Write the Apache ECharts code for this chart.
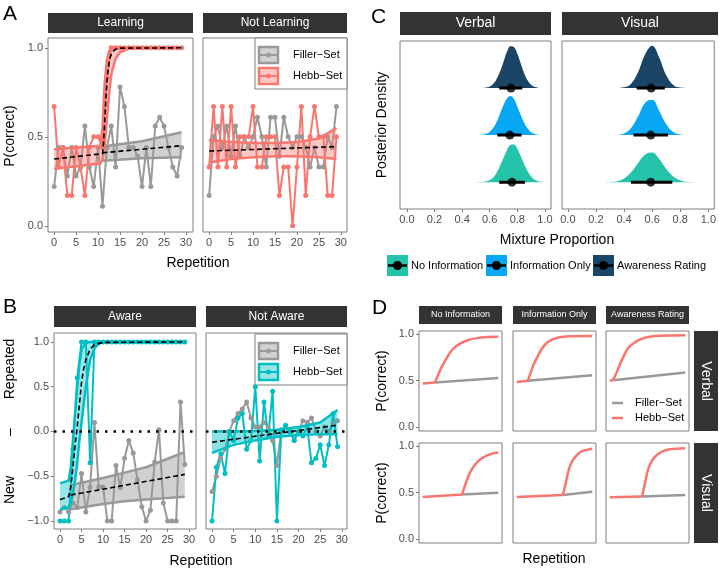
<!DOCTYPE html>
<html>
<head>
<meta charset="utf-8">
<script src="https://cdn.jsdelivr.net/npm/echarts@6/dist/echarts.min.js"></script>
<style>
  html, body { margin: 0; padding: 0; background: #fff; }
  #chart { width: 719px; height: 572px; }
</style>
</head>
<body>
<div id="chart"></div>
<script>
// ---------- data ----------
const repetition = [0,1,2,3,4,5,6,7,8,9,10,11,12,13,14,15,16,17,18,19,20,21,22,23,24,25,26,27,28,29];
const repTicks = [0,5,10,15,20,25,30];
const pTicks = [0,0.5,1];
const respTicks = [-1,-0.5,0,0.5,1];
const mixTicks = [0,0.2,0.4,0.6,0.8,1];

// A: Learning / Not Learning
const aLearnFiller = [0.22,0.44,0.44,0.28,0.44,0.28,0.33,0.56,0.33,0.22,0.44,0.11,0.44,0.56,0.33,0.78,0.67,0.44,0.44,0.39,0.22,0.44,0.22,0.56,0.61,0.56,0.44,0.33,0.28,0.44];
const aLearnHebb = [0.67,0.33,0.44,0.17,0.17,0.44,0.33,0.17,0.44,0.5,0.5,0.44,0.83,1,1,1,1,1,1,1,1,1,1,1,1,1,1,1,1,1];
const aNotFiller = [0.17,0.5,0.56,0.44,0.56,0.39,0.56,0.39,0.5,0.44,0.5,0.61,0.5,0.33,0.61,0.61,0.39,0.61,0.5,0.44,0.5,0.5,0.44,0.33,0.44,0.33,0.33,0.5,0.44,0.67];
const aNotHebb = [0.33,0.67,0.33,0.67,0.33,0.67,0.33,0.5,0.5,0.5,0.67,0.33,0.33,0.5,0.5,0.5,0.17,0.33,0.33,0,0.33,0.67,0.17,0.5,0.67,0.5,0.5,0.17,0.17,0.5];

const aLearnHebbFitX = [0,11,11.25,11.5,11.75,12,12.25,12.5,12.75,13,13.5,14,15,29];
const aLearnHebbFitY = [0.375,0.405,0.47,0.58,0.7,0.8,0.87,0.915,0.945,0.963,0.982,0.992,0.998,1];
const aLearnFillerFitX = [11,29];
const aLearnFillerFitY = [0.41,0.45];
const aLearnHebbBandX = [0,5,10.5,11,11.5,12,12.5,13,14,15,17,20,29];
const aLearnHebbBandHi = [0.43,0.44,0.45,0.55,0.8,0.93,0.98,1,1,1,1,1,1];
const aLearnHebbBandLo = [0.32,0.335,0.35,0.37,0.45,0.6,0.74,0.85,0.94,0.975,0.995,1,1];
const aLearnFillerBandX = [11,20,29];
const aLearnFillerBandHi = [0.445,0.475,0.525];
const aLearnFillerBandLo = [0.365,0.38,0.385];
const aNotFitX = [0,29];
const aNotFitY = [0.42,0.445];
const aNotBandX = [0,5,10,15,20,25,29];
const aNotBandHi = [0.483,0.47,0.465,0.465,0.47,0.49,0.55];
const aNotBandLo = [0.355,0.375,0.385,0.39,0.39,0.385,0.375];

// B: Aware / Not Aware
const bAwareFiller = [-0.9,-0.85,-0.9,-0.8,-0.85,-0.47,-0.9,-0.62,0.1,-0.62,-0.62,-1,-1,-0.38,-0.63,-0.3,-0.1,-0.24,-0.54,-0.84,-1,-0.88,-0.34,0.02,-0.8,-1,-1,-1,0.33,-0.37];
const bAwareHebb = [-1,-1,-1,-0.2,0.6,1,1,-0.35,1,1,1,1,1,1,1,1,1,1,1,1,1,1,1,1,1,1,1,1,1,1];
const bNotFiller = [-0.67,-0.5,-0.3,-0.2,0,0.12,0.2,0.25,0.33,0.15,0.05,0.05,0.1,0.05,-0.1,-0.38,0.02,0.05,0,-0.1,0,0.12,0.1,0.15,0,-0.05,0.05,0,0.1,0.12];
const bNotHebb = [-1,-0.4,-0.25,-0.47,0,-0.1,0.15,0.2,-0.2,-0.1,0.5,-0.33,0.33,-0.05,0.45,-1,0,0.07,0,-0.1,0,-0.05,0.05,-0.35,-0.3,-0.15,-0.38,-0.15,0.2,-0.17];

const bAwareHebbFitX = [0,2,2.5,3,3.5,4,4.5,5,5.5,6,7,8,10,29];
const bAwareHebbFitY = [-0.76,-0.73,-0.62,-0.4,-0.15,0.05,0.3,0.55,0.7,0.8,0.92,0.97,0.995,1];
const bAwareFillerFitX = [2.5,29];
const bAwareFillerFitY = [-0.71,-0.48];
const bAwareHebbBandX = [0,2,2.5,3,3.5,4,4.5,5,6,7,8,9,10,29];
const bAwareHebbBandHi = [-0.58,-0.55,-0.4,-0.1,0.2,0.5,0.75,0.92,0.99,1,1,1,1,1];
const bAwareHebbBandLo = [-0.87,-0.85,-0.8,-0.7,-0.55,-0.35,-0.1,0.1,0.5,0.8,0.93,0.98,1,1];
const bAwareFillerBandX = [2.5,10,15,20,29];
const bAwareFillerBandHi = [-0.6,-0.52,-0.46,-0.4,-0.23];
const bAwareFillerBandLo = [-0.87,-0.81,-0.78,-0.76,-0.73];
const bNotFitX = [0,29];
const bNotFitY = [-0.12,0.07];
const bNotBandX = [0,5,10,15,20,25,29];
const bNotBandHi = [0,0,0.005,0.02,0.05,0.1,0.24];
const bNotBandLo = [-0.24,-0.15,-0.1,-0.06,-0.04,-0.03,-0.03];

// C: posterior densities of the mixture proportion (rows: No Information, Information Only, Awareness Rating)
const cConditions = ['No Information','Information Only','Awareness Rating'];
const cVerbalX = [0.5,0.525,0.55,0.575,0.6,0.625,0.65,0.675,0.7,0.725,0.75,0.775,0.8,0.825,0.85,0.875,0.9,0.925,0.95,0.975,1];
const cVerbalNone = [0,0.002,0.006,0.018,0.046,0.1,0.2,0.35,0.52,0.68,0.79,0.8,0.71,0.55,0.38,0.23,0.12,0.055,0.022,0.008,0.002];
const cVerbalInfo = [0.001,0.003,0.011,0.03,0.072,0.15,0.28,0.46,0.64,0.78,0.83,0.77,0.61,0.43,0.26,0.14,0.063,0.025,0.009,0.003,0.001];
const cVerbalAware = [0,0.001,0.003,0.011,0.032,0.084,0.19,0.35,0.56,0.77,0.89,0.87,0.73,0.52,0.31,0.16,0.07,0.026,0.008,0.002,0];
const cVisualX = [0.25,0.3,0.35,0.4,0.45,0.5,0.55,0.6,0.65,0.7,0.75,0.8,0.85,0.9,0.95];
const cVisualNone = [0.001,0.004,0.021,0.078,0.21,0.41,0.59,0.63,0.49,0.28,0.12,0.037,0.008,0.001,0];
const cVisualInfo = [0,0,0.005,0.034,0.15,0.4,0.69,0.75,0.52,0.23,0.064,0.011,0.001,0,0];
const cVisualAware = [0,0,0.001,0.015,0.093,0.34,0.72,0.9,0.65,0.27,0.067,0.01,0.001,0,0];
const cVerbalEst = [0.761,0.746,0.754];
const cVerbalLo = [0.669,0.655,0.669];
const cVerbalHi = [0.855,0.83,0.836];
const cVisualEst = [0.59,0.59,0.593];
const cVisualLo = [0.449,0.467,0.49];
const cVisualHi = [0.743,0.713,0.69];

// D: model predictions, [repetition, P(correct)]; 2nd point = change point
const dVerbalNoneHebb = [[1,0.47],[5.7,0.48],[7,0.57],[8.5,0.66],[10.3,0.75],[12.5,0.84],[15.3,0.9],[18.5,0.94],[21.8,0.96],[26,0.972],[30,0.975]];
const dVerbalNoneFiller = [[5.7,0.48],[30,0.53]];
const dVerbalInfoHebb = [[1,0.485],[5.3,0.5],[6.5,0.6],[7.6,0.68],[8.8,0.75],[10.5,0.84],[12.6,0.91],[15,0.95],[17.6,0.97],[22,0.98],[30,0.982]];
const dVerbalInfoFiller = [[5.3,0.5],[30,0.56]];
const dVerbalAwareHebb = [[1,0.5],[2.2,0.505],[3.5,0.58],[4.8,0.67],[6.1,0.75],[8,0.85],[9.9,0.9],[12.5,0.945],[15.3,0.97],[20,0.985],[30,0.99]];
const dVerbalAwareFiller = [[2.2,0.505],[30,0.59]];
const dVisualNoneHebb = [[1,0.455],[16.1,0.48],[17.5,0.6],[19.2,0.72],[21,0.8],[23,0.86],[26,0.905],[28.8,0.93],[30,0.935]];
const dVisualNoneFiller = [[16.1,0.48],[30,0.5]];
const dVisualInfoHebb = [[1,0.455],[18.7,0.475],[19.8,0.6],[21,0.75],[22.3,0.84],[23.6,0.89],[25.5,0.94],[27.5,0.96],[30,0.975]];
const dVisualInfoFiller = [[18.7,0.475],[30,0.51]];
const dVisualAwareHebb = [[1,0.45],[13.4,0.46],[14.5,0.6],[15.7,0.75],[17.3,0.85],[19.2,0.91],[21.5,0.95],[24.2,0.97],[30,0.98]];
const dVisualAwareFiller = [[13.4,0.46],[30,0.475]];

// ---------- styling ----------
const FONT = '"Liberation Sans", Arial, Helvetica, sans-serif';
const SALMON = '#F8766D', TEAL = '#00BFC4', GREY = '#999999';
const C_COLORS = ['#25C4AA', '#08A7F3', '#1B4566'];
const STRIP = '#333333', BORDER = '#7F7F7F', TICKTXT = '#4D4D4D';
const SET_LABELS = ['Filler\u2212Set', 'Hebb\u2212Set'];

const grid = [], xAxis = [], yAxis = [], series = [], graphic = [];

const fmt1 = v => (v < 0 ? '\u2212' : '') + Math.abs(v).toFixed(1);
const fmt0 = v => String(v);

function axis(i, r, ticks, fmt) {
  const on = !!ticks;
  return {
    type: 'value', gridIndex: i, min: r[0], max: r[1],
    splitLine: { show: false }, axisLine: { show: false, onZero: false },
    axisTick: { show: on, customValues: ticks || undefined, length: 3, lineStyle: { color: BORDER, width: 1 } },
    axisLabel: { show: on, customValues: ticks || undefined, margin: 5, color: TICKTXT, fontSize: 11, fontFamily: FONT, formatter: fmt }
  };
}
function panel(box, xr, yr, xTicks, xFmt, yTicks, yFmt) {
  const i = grid.length;
  grid.push({ left: box[0], top: box[1], width: box[2], height: box[3], show: true,
    borderColor: BORDER, borderWidth: 1, backgroundColor: '#fff' });
  xAxis.push(axis(i, xr, xTicks, xFmt));
  yAxis.push(axis(i, yr, yTicks, yFmt));
  return i;
}
const xy = (xs, ys) => xs.map((x, k) => [x, ys[k]]);

function dataLine(g, ys, color) {
  series.push({ type: 'line', xAxisIndex: g, yAxisIndex: g, data: xy(repetition, ys), symbol: 'circle',
    symbolSize: 5, itemStyle: { color }, lineStyle: { color, width: 2 }, z: 2, silent: true });
}
function band(g, xs, lo, hi, color, fill) {
  series.push({ type: 'custom', xAxisIndex: g, yAxisIndex: g, data: [[xs[0], lo[0]]], z: 3, silent: true,
    renderItem: (p, api) => {
      const top = xs.map((x, k) => api.coord([x, hi[k]]));
      const bot = xs.map((x, k) => api.coord([x, lo[k]])).reverse();
      return { type: 'polygon', shape: { points: top.concat(bot) }, style: { fill: fill, stroke: null } };
    } });
  [lo, hi].forEach(ys => series.push({ type: 'line', xAxisIndex: g, yAxisIndex: g, data: xy(xs, ys),
    symbol: 'none', lineStyle: { color, width: 2.5 }, z: 3, silent: true }));
}
function fit(g, xs, ys, zeroLine) {
  const s = { type: 'line', xAxisIndex: g, yAxisIndex: g, data: xy(xs, ys), symbol: 'none',
    lineStyle: { color: '#000', width: 1.6, type: [5, 3] }, z: 4, silent: true };
  if (zeroLine) {
    s.markLine = { silent: true, symbol: ['none', 'none'], label: { show: false },
      lineStyle: { color: '#000', width: 2.5, type: [2.5, 6] }, data: [{ yAxis: 0 }] };
  }
  series.push(s);
}

// ---------- A ----------
const gA1 = panel([48, 38, 145, 194], [-1.4, 31.6], [-0.035, 1.055], repTicks, fmt0, pTicks, fmt1);
const gA2 = panel([203, 38, 144, 194], [-1.4, 31.4], [-0.035, 1.055], repTicks, fmt0, null, fmt1);
dataLine(gA1, aLearnFiller, GREY);
dataLine(gA1, aLearnHebb, SALMON);
band(gA1, aLearnFillerBandX, aLearnFillerBandLo, aLearnFillerBandHi, GREY, 'rgba(153,153,153,0.45)');
band(gA1, aLearnHebbBandX, aLearnHebbBandLo, aLearnHebbBandHi, SALMON, 'rgba(248,118,109,0.4)');
fit(gA1, aLearnFillerFitX, aLearnFillerFitY);
fit(gA1, aLearnHebbFitX, aLearnHebbFitY);
dataLine(gA2, aNotFiller, GREY);
dataLine(gA2, aNotHebb, SALMON);
band(gA2, aNotBandX, aNotBandLo, aNotBandHi, SALMON, 'rgba(248,118,109,0.4)');
fit(gA2, aNotFitX, aNotFitY);

// ---------- B ----------
const gB1 = panel([54, 333, 142, 196], [-1.4, 31.6], [-1.09, 1.1], repTicks, fmt0, respTicks, fmt1);
const gB2 = panel([206, 333, 141, 196], [-1.4, 31.2], [-1.09, 1.1], repTicks, fmt0, null, fmt1);
dataLine(gB1, bAwareFiller, GREY);
dataLine(gB1, bAwareHebb, TEAL);
band(gB1, bAwareFillerBandX, bAwareFillerBandLo, bAwareFillerBandHi, GREY, 'rgba(153,153,153,0.45)');
band(gB1, bAwareHebbBandX, bAwareHebbBandLo, bAwareHebbBandHi, TEAL, 'rgba(0,191,196,0.4)');
fit(gB1, bAwareFillerFitX, bAwareFillerFitY);
fit(gB1, bAwareHebbFitX, bAwareHebbFitY, true);
dataLine(gB2, bNotFiller, GREY);
dataLine(gB2, bNotHebb, TEAL);
band(gB2, bNotBandX, bNotBandLo, bNotBandHi, TEAL, 'rgba(0,191,196,0.45)');
fit(gB2, bNotFitX, bNotFitY, true);

// ---------- C ----------
const fmtMix = v => v.toFixed(1);
const gC1 = panel([400, 41, 151, 168], [-0.05, 1.044], [-0.57, 3.0], mixTicks, fmtMix, null, fmt1);
const gC2 = panel([562, 41, 156, 168], [-0.042, 1.042], [-0.57, 3.0], mixTicks, fmtMix, null, fmt1);
function ridges(g, xs, dens, est, lo, hi) {
  dens.forEach((ds, row) => {
    series.push({ type: 'line', xAxisIndex: g, yAxisIndex: g, data: xy(xs, ds.map(d => d + row)),
      symbol: 'none', smooth: 0.4, lineStyle: { width: 1, color: C_COLORS[row], opacity: 0 },
      areaStyle: { color: C_COLORS[row], opacity: 1, origin: row }, z: 2, silent: true });
    series.push({ type: 'line', xAxisIndex: g, yAxisIndex: g, data: [[lo[row], row], [hi[row], row]],
      symbol: 'none', lineStyle: { color: '#000', width: 3 }, z: 4, silent: true });
    series.push({ type: 'scatter', xAxisIndex: g, yAxisIndex: g, data: [[est[row], row]],
      symbolSize: 9, itemStyle: { color: '#000' }, z: 5, silent: true });
  });
}
ridges(gC1, cVerbalX, [cVerbalNone, cVerbalInfo, cVerbalAware], cVerbalEst, cVerbalLo, cVerbalHi);
ridges(gC2, cVisualX, [cVisualNone, cVisualInfo, cVisualAware], cVisualEst, cVisualLo, cVisualHi);

// ---------- D ----------
const dLefts = [419, 513, 606], dTops = [331, 443];
const dPanels = [
  [dVerbalNoneHebb, dVerbalNoneFiller], [dVerbalInfoHebb, dVerbalInfoFiller], [dVerbalAwareHebb, dVerbalAwareFiller],
  [dVisualNoneHebb, dVisualNoneFiller], [dVisualInfoHebb, dVisualInfoFiller], [dVisualAwareHebb, dVisualAwareFiller]
];
dPanels.forEach((pp, k) => {
  const r = Math.floor(k / 3), c = k % 3;
  const g = panel([dLefts[c], dTops[r], 83, 100], [-0.45, 31.45], [-0.043, 1.037], null, fmt0, c === 0 ? pTicks : null, fmt1);
  const hebb = pp[0], filler = pp[1];
  series.push({ type: 'line', xAxisIndex: g, yAxisIndex: g, data: filler, symbol: 'none',
    lineStyle: { color: GREY, width: 2.5 }, z: 2, silent: true });
  series.push({ type: 'line', xAxisIndex: g, yAxisIndex: g, data: hebb.slice(0, 2), symbol: 'none',
    lineStyle: { color: SALMON, width: 2.5 }, z: 3, silent: true });
  series.push({ type: 'line', xAxisIndex: g, yAxisIndex: g, data: hebb.slice(1), symbol: 'none', smooth: 0.35,
    lineStyle: { color: SALMON, width: 2.5 }, z: 3, silent: true });
});

// ---------- annotations ----------
function text(x, y, s, size, opts) {
  opts = opts || {};
  graphic.push({ type: 'text', x: x, y: y, rotation: opts.rot || 0, z: 101, silent: true,
    style: { text: s, fill: opts.color || '#000', font: size + 'px ' + FONT,
      textAlign: opts.align || 'center', textVerticalAlign: opts.valign || 'middle' } });
}
function strip(x, y, w, h, s, size, rot) {
  graphic.push({ type: 'rect', shape: { x: x, y: y, width: w, height: h }, style: { fill: STRIP }, z: 100, silent: true });
  text(x + w / 2, y + h / 2, s, size, { color: '#fff', rot: rot });
}
strip(48, 13, 145, 20, 'Learning', 12);
strip(203, 13, 144, 20, 'Not Learning', 12);
strip(54, 306, 142, 21, 'Aware', 12);
strip(206, 306, 141, 21, 'Not Aware', 12);
strip(400, 12, 151, 23, 'Verbal', 14);
strip(562, 12, 156, 23, 'Visual', 14);
cConditions.forEach((s, c) => strip(dLefts[c], 306, 83, 18, s, 9));
strip(694, 331, 24, 100, 'Verbal', 14, -Math.PI / 2);
strip(694, 443, 24, 100, 'Visual', 14, -Math.PI / 2);

[['A', 3, 4], ['B', 3, 297], ['C', 371, 7], ['D', 372, 298]].forEach(l =>
  text(l[1], l[2], l[0], 21, { align: 'left', valign: 'top' }));

text(10, 136, 'P(correct)', 14, { rot: Math.PI / 2 });
text(198, 263, 'Repetition', 14);
text(10, 369, 'Repeated', 14, { rot: Math.PI / 2 });
text(10, 432, '\u2013', 14, { rot: Math.PI / 2 });
text(10, 490, 'New', 14, { rot: Math.PI / 2 });
text(201, 561, 'Repetition', 14);
text(382, 125, 'Posterior Density', 14, { rot: Math.PI / 2 });
text(557, 240, 'Mixture Proportion', 14);
text(382, 381, 'P(correct)', 14, { rot: Math.PI / 2 });
text(382, 493, 'P(correct)', 14, { rot: Math.PI / 2 });
text(554, 559, 'Repetition', 14);

// legends in A and B
function ribbonLegend(x, y, hebbColor, hebbFill) {
  graphic.push({ type: 'rect', shape: { x: x, y: y, width: 92, height: 51 },
    style: { fill: '#fff', stroke: BORDER, lineWidth: 1 }, z: 100, silent: true });
  [[GREY, 'rgba(153,153,153,0.45)'], [hebbColor, hebbFill]].forEach((c, k) => {
    const cy = y + 17 + k * 21;
    graphic.push({ type: 'rect', shape: { x: x + 4, y: cy - 8, width: 19, height: 16 },
      style: { fill: c[1], stroke: c[0], lineWidth: 2.5 }, z: 101, silent: true });
    graphic.push({ type: 'line', shape: { x1: x + 4, y1: cy, x2: x + 23, y2: cy },
      style: { stroke: c[0], lineWidth: 2 }, z: 102, silent: true });
    graphic.push({ type: 'circle', shape: { cx: x + 13.5, cy: cy, r: 2.5 },
      style: { fill: c[0] }, z: 102, silent: true });
    text(x + 38, cy, SET_LABELS[k], 11, { align: 'left' });
  });
}
ribbonLegend(255, 38, SALMON, 'rgba(248,118,109,0.4)');
ribbonLegend(255, 334, TEAL, 'rgba(0,191,196,0.4)');

// legend C
const cKeyX = [387, 486, 593];
cConditions.forEach((s, k) => {
  const x = cKeyX[k];
  graphic.push({ type: 'rect', shape: { x: x, y: 255, width: 21, height: 21 }, style: { fill: C_COLORS[k] }, z: 100, silent: true });
  graphic.push({ type: 'line', shape: { x1: x + 1, y1: 265.5, x2: x + 20, y2: 265.5 }, style: { stroke: '#000', lineWidth: 2.5 }, z: 101, silent: true });
  graphic.push({ type: 'circle', shape: { cx: x + 10.5, cy: 265.5, r: 4.5 }, style: { fill: '#000' }, z: 101, silent: true });
  text(x + 24, 266, s, 11, { align: 'left' });
});

// legend D
[[GREY, 403], [SALMON, 418]].forEach((c, k) => {
  graphic.push({ type: 'line', shape: { x1: 612, y1: c[1], x2: 623, y2: c[1] }, style: { stroke: c[0], lineWidth: 2.5 }, z: 101, silent: true });
  text(635, c[1], SET_LABELS[k], 11, { align: 'left' });
});

const chart = echarts.init(document.getElementById('chart'), null, { renderer: 'canvas' });
chart.setOption({
  animation: false,
  backgroundColor: '#fff',
  grid: grid,
  xAxis: xAxis,
  yAxis: yAxis,
  series: series,
  graphic: graphic
});
</script>
</body>
</html>
